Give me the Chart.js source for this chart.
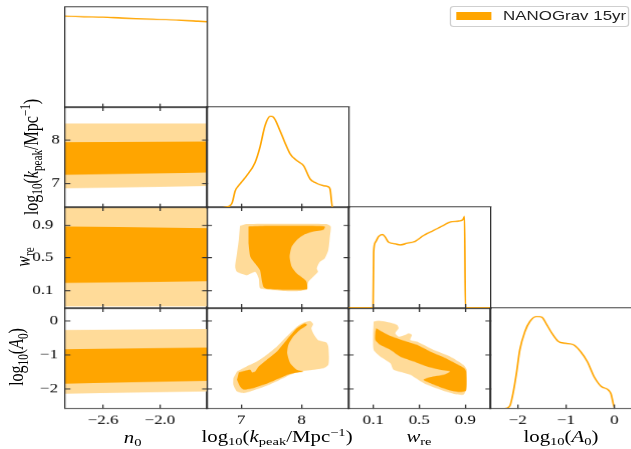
<!DOCTYPE html>
<html>
<head>
<meta charset="utf-8">
<title>NANOGrav 15yr posterior</title>
<script src="https://cdn.jsdelivr.net/npm/chart.js@4.4.1/dist/chart.umd.min.js"></script>
<style>
  html, body { margin: 0; padding: 0; background: #fff; }
  #page { position: relative; width: 631px; height: 449px; overflow: hidden; }
  /* the figure is laid out narrow and stretched sideways */
  #fig { position: absolute; left: 0; top: 0; width: 486px; height: 449px; transform: scaleX(1.3); transform-origin: 0 0; }
  #fig canvas { position: absolute; }
  .title { position: absolute; font: 16px 'Liberation Serif', serif; color: #000; white-space: nowrap; transform: translate(-50%, -50%); }
  .title.y { transform: translate(-50%, -50%) rotate(-90deg); }
  .title sub, .title sup { font-size: 70%; line-height: 0; }
  .title sub { vertical-align: -0.3em; }
  .title sup { vertical-align: 0.5em; }
  #legend { position: absolute; left: 346px; top: 6px; width: 138px; height: 21px; box-sizing: border-box; border: 1px solid #cfcfcf; border-radius: 3px; background: #fff; font: 13px 'Liberation Sans', sans-serif; color: #222; }
  #legend .patch { position: absolute; left: 4px; top: 4.5px; width: 27px; height: 8.5px; background: #FFA500; }
  #legend .text { position: absolute; left: 40px; top: 2px; line-height: 13px; }
</style>
</head>
<body>
<div id="page">
  <div id="fig">
    <div id="legend"><span class="patch"></span><span class="text">NANOGrav 15yr</span></div>
  </div>
</div>
<script>
// parameter ranges shown on each axis
const n0Range = [-3.0, -1.5];
const kpeakRange = [6.43, 8.78];
const wreRange = [-0.115, 1.12];
const a0Range = [-2.57, 0.37];
const densRange = [0, 1.1];

const n0Ticks = [-2.6, -2.0];
const n0TickLabels = ['\u22122.6', '\u22122.0'];
const kpeakTicks = [7, 8];
const kpeakTickLabels = ['7', '8'];
const wreTicks = [0.1, 0.5, 0.9];
const wreTickLabels = ['0.1', '0.5', '0.9'];
const a0Ticks = [-2, -1, 0];
const a0TickLabels = ['\u22122', '\u22121', '0'];

// 1D marginals
const n0Grid = [-3.0, -2.8, -2.6, -2.4, -2.2, -2.0, -1.8, -1.6, -1.5];
const n0Dens = [1.0, 0.993, 0.989, 0.979, 0.971, 0.964, 0.957, 0.946, 0.94];

const kpeakGrid = [6.43, 6.6, 6.76, 6.85, 6.90, 6.955, 7.09, 7.23, 7.31, 7.395, 7.48, 7.53, 7.64, 7.72, 7.81, 7.92, 8.03, 8.14, 8.22, 8.36, 8.44, 8.47, 8.51, 8.78];
const kpeakDens = [0, 0, 0.008, 0.055, 0.184, 0.239, 0.349, 0.495, 0.66, 0.899, 0.998, 0.99, 0.844, 0.715, 0.587, 0.514, 0.459, 0.312, 0.275, 0.239, 0.228, 0.2, 0, 0];

const wreGrid = [-0.115, 0.099, 0.104, 0.119, 0.147, 0.182, 0.205, 0.234, 0.292, 0.335, 0.393, 0.465, 0.537, 0.624, 0.71, 0.769, 0.84, 0.879, 0.893, 0.901, 1.12];
const wreDens = [0, 0, 0.606, 0.716, 0.779, 0.80, 0.771, 0.716, 0.699, 0.688, 0.705, 0.727, 0.79, 0.845, 0.9, 0.937, 0.947, 0.962, 0.998, 0, 0];

const a0Grid = [-2.57, -2.27, -2.165, -2.096, -2.025, -1.956, -1.85, -1.747, -1.607, -1.502, -1.397, -1.293, -1.155, -1.015, -0.84, -0.70, -0.56, -0.42, -0.28, -0.14, -0.073, 0.01, 0.37];
const a0Dens = [0, 0, 0.025, 0.165, 0.385, 0.641, 0.843, 0.953, 1.008, 1.0, 0.916, 0.825, 0.733, 0.715, 0.696, 0.623, 0.513, 0.348, 0.245, 0.209, 0.165, 0, 0];

// n0 is unconstrained: the 68% / 95% regions are bands across the prior
const n0Edges = [-3.0, -1.5];
const kpeak68Lo = [7.196, 7.25], kpeak68Hi = [7.96, 7.976];
const kpeak95Lo = [6.882, 6.936], kpeak95Hi = [8.395, 8.395];
const wre68Lo = [0.192, 0.213], wre68Hi = [0.881, 0.862];
const wre95Lo = [-0.094, -0.094], wre95Hi = [1.13, 1.13];
const a068Lo = [-1.845, -1.758], a068Hi = [-0.834, -0.787];
const a095Lo = [-2.137, -2.07], a095Hi = [-0.271, -0.242];

// 2D credible contours
const kpWre95K = [6.98, 7.09, 7.42, 7.97, 8.41, 8.48, 8.466, 8.44, 8.38, 8.30, 8.25, 8.27, 8.19, 8.11, 8.08, 7.97, 7.70, 7.42, 7.31, 7.29, 7.23, 7.09, 6.93, 6.90, 6.93, 6.96];
const kpWre95W = [0.89, 0.911, 0.915, 0.915, 0.911, 0.882, 0.759, 0.595, 0.492, 0.451, 0.369, 0.328, 0.267, 0.205, 0.123, 0.094, 0.094, 0.115, 0.13, 0.246, 0.328, 0.287, 0.328, 0.39, 0.554, 0.718];
const kpWre68K = [7.12, 7.42, 7.97, 8.38, 8.36, 8.19, 8.03, 7.92, 7.835, 7.80, 7.835, 7.92, 8.03, 8.08, 8.09, 7.97, 7.70, 7.42, 7.37, 7.34, 7.31, 7.23, 7.15, 7.12];
const kpWre68W = [0.882, 0.89, 0.89, 0.882, 0.841, 0.82, 0.779, 0.718, 0.636, 0.513, 0.39, 0.308, 0.246, 0.205, 0.115, 0.108, 0.108, 0.12, 0.14, 0.226, 0.349, 0.431, 0.513, 0.677];

const kpA095K = [6.93, 7.09, 7.26, 7.42, 7.59, 7.75, 7.92, 8.03, 8.14, 8.19, 8.16, 8.19, 8.27, 8.41, 8.44, 8.45, 8.44, 8.36, 8.19, 7.97, 7.81, 7.64, 7.42, 7.20, 7.04, 6.93, 6.87, 6.87];
const kpA095A = [-1.486, -1.34, -1.194, -1.0, -0.757, -0.466, -0.174, -0.057, -0.009, -0.096, -0.222, -0.368, -0.563, -0.64, -0.757, -1.049, -1.292, -1.389, -1.437, -1.486, -1.583, -1.729, -1.904, -2.04, -2.118, -2.069, -1.875, -1.68];
const kpA068K = [6.96, 7.07, 7.15, 7.18, 7.23, 7.29, 7.42, 7.59, 7.75, 7.92, 8.05, 8.09, 7.97, 7.86, 7.78, 7.76, 7.81, 7.92, 8.03, 7.81, 7.64, 7.42, 7.20, 7.04, 6.98, 6.93];
const kpA068A = [-1.515, -1.457, -1.437, -1.515, -1.486, -1.34, -1.146, -0.903, -0.563, -0.222, -0.077, -0.125, -0.271, -0.466, -0.708, -0.951, -1.243, -1.437, -1.486, -1.554, -1.68, -1.845, -1.972, -2.02, -1.923, -1.729];

const wrA095W = [0.104, 0.148, 0.249, 0.307, 0.321, 0.292, 0.321, 0.379, 0.408, 0.436, 0.422, 0.48, 0.624, 0.769, 0.884, 0.913, 0.907, 0.884, 0.797, 0.682, 0.538, 0.422, 0.278, 0.249, 0.162, 0.104, 0.099];
const wrA095A = [-0.028, 0.001, -0.057, -0.125, -0.222, -0.368, -0.466, -0.417, -0.368, -0.417, -0.563, -0.611, -0.854, -1.049, -1.292, -1.437, -2.02, -2.166, -2.137, -2.02, -1.826, -1.583, -1.437, -1.243, -1.049, -0.854, -0.368];
const wrA068W = [0.127, 0.162, 0.249, 0.364, 0.48, 0.595, 0.711, 0.812, 0.89, 0.907, 0.907, 0.855, 0.769, 0.682, 0.595, 0.538, 0.595, 0.711, 0.769, 0.682, 0.566, 0.451, 0.335, 0.249, 0.162, 0.119, 0.119];
const wrA068A = [-0.222, -0.291, -0.446, -0.582, -0.708, -0.903, -1.068, -1.243, -1.389, -1.486, -2.04, -2.088, -2.04, -1.943, -1.826, -1.729, -1.651, -1.583, -1.486, -1.437, -1.34, -1.194, -1.049, -0.854, -0.708, -0.563, -0.32];

const DARK = '#FFA500';
const LIGHT = '#FFDB99';
const FRAME = '#333';
const TICK_FONT = { family: "'Liberation Serif', serif", size: 13 };

// panel grid (unstretched px)
const colEdges = [50, 159, 268, 377, 486];
const rowEdges = [7, 107, 207, 308, 408];
const LABEL_W = 50, LABEL_H = 40;

const fig = document.getElementById('fig');

function pts(xs, ys) {
  return xs.map((x, i) => ({ x: x, y: ys[i] }));
}

function curve(xs, ys) {
  return { data: pts(xs, ys), showLine: true, borderColor: DARK, borderWidth: 1.3, pointRadius: 0, fill: false, cubicInterpolationMode: 'monotone' };
}

function edge(xs, ys, fillTo, color) {
  return { data: pts(xs, ys), showLine: true, borderWidth: 0, pointRadius: 0, fill: fillTo, backgroundColor: color };
}

function region(xs, ys, color) {
  return { data: pts(xs, ys), showLine: true, borderWidth: 0, pointRadius: 0, fill: 'shape', backgroundColor: color, tension: 0.2 };
}

// two nested bands across the whole n0 range, dark one on top
function bands(lo68, hi68, lo95, hi95) {
  return [
    edge(n0Edges, hi68, false, DARK),
    edge(n0Edges, lo68, '-1', DARK),
    edge(n0Edges, hi95, false, LIGHT),
    edge(n0Edges, lo95, '-1', LIGHT)
  ];
}

// size: room kept for the tick labels (0 when the axis only draws its line and ticks)
function axis(id, position, range, ticks, labels, withTicks, size, pad) {
  return {
    type: 'linear', axis: id, position: position, min: range[0], max: range[1],
    afterBuildTicks: s => { s.ticks = ticks.map(v => ({ value: v })); },
    afterFit: s => {
      if (s.isHorizontal()) s.height = size; else s.width = size;
      s.paddingLeft = s.paddingRight = s.paddingTop = s.paddingBottom = 0;
    },
    grid: { drawOnChartArea: false, drawTicks: withTicks, tickLength: -4, color: FRAME, lineWidth: 1, z: 1 },
    border: { display: true, color: FRAME, width: 1, z: 1 },
    ticks: {
      display: !!labels, autoSkip: false, minRotation: 0, maxRotation: 0,
      callback: (v, i) => labels ? labels[i] : '',
      font: TICK_FONT, color: '#000', padding: pad || 8
    }
  };
}

function panel(col, row, p) {
  const diag = !!p.diag;
  const xLabels = row === 3 ? p.xLabels : null;
  const yLabels = col === 0 && !diag ? p.yLabels : null;
  const yTicks = diag ? [] : p.yTicks;

  const padL = yLabels ? LABEL_W : 3;
  const padB = xLabels ? LABEL_H : 3;
  const padR = 3, padT = 3;
  const w = colEdges[col + 1] - colEdges[col];
  const h = rowEdges[row + 1] - rowEdges[row];
  const canvas = document.createElement('canvas');
  canvas.width = w + padL + padR;
  canvas.height = h + padT + padB;
  canvas.style.left = (colEdges[col] - padL) + 'px';
  canvas.style.top = (rowEdges[row] - padT) + 'px';
  fig.insertBefore(canvas, fig.firstChild);

  return new Chart(canvas, {
    type: 'scatter',
    data: { datasets: p.datasets },
    options: {
      responsive: false,
      animation: false,
      devicePixelRatio: 1.3,
      layout: { autoPadding: false, padding: { left: yLabels ? 0 : padL, right: padR, top: padT, bottom: xLabels ? 0 : padB } },
      plugins: { legend: { display: false }, tooltip: { enabled: false } },
      scales: {
        x: axis('x', 'bottom', p.xRange, p.xTicks, xLabels, true, xLabels ? LABEL_H : 0, 8),
        xTop: axis('x', 'top', p.xRange, p.xTicks, null, !diag, 0),
        y: axis('y', 'left', p.yRange, yTicks, yLabels, !diag, yLabels ? LABEL_W : 0, p.yPad),
        yRight: axis('y', 'right', p.yRange, yTicks, null, !diag, 0)
      }
    }
  });
}

// diagonal: 1D marginals
panel(0, 0, { diag: true, xRange: n0Range, yRange: densRange, xTicks: n0Ticks, xLabels: n0TickLabels,
  datasets: [curve(n0Grid, n0Dens)] });
panel(1, 1, { diag: true, xRange: kpeakRange, yRange: densRange, xTicks: kpeakTicks, xLabels: kpeakTickLabels,
  datasets: [curve(kpeakGrid, kpeakDens)] });
panel(2, 2, { diag: true, xRange: wreRange, yRange: densRange, xTicks: wreTicks, xLabels: wreTickLabels,
  datasets: [curve(wreGrid, wreDens)] });
panel(3, 3, { diag: true, xRange: a0Range, yRange: densRange, xTicks: a0Ticks, xLabels: a0TickLabels,
  datasets: [curve(a0Grid, a0Dens)] });

// first column: n0 against the rest
panel(0, 1, { xRange: n0Range, yRange: kpeakRange, xTicks: n0Ticks, yTicks: kpeakTicks, yLabels: kpeakTickLabels, yPad: 8,
  datasets: bands(kpeak68Lo, kpeak68Hi, kpeak95Lo, kpeak95Hi) });
panel(0, 2, { xRange: n0Range, yRange: wreRange, xTicks: n0Ticks, yTicks: wreTicks, yLabels: wreTickLabels, yPad: 13,
  datasets: bands(wre68Lo, wre68Hi, wre95Lo, wre95Hi) });
panel(0, 3, { xRange: n0Range, yRange: a0Range, xTicks: n0Ticks, yTicks: a0Ticks, xLabels: n0TickLabels, yLabels: a0TickLabels, yPad: 9.5,
  datasets: bands(a068Lo, a068Hi, a095Lo, a095Hi) });

// remaining 2D contours
panel(1, 2, { xRange: kpeakRange, yRange: wreRange, xTicks: kpeakTicks, yTicks: wreTicks,
  datasets: [region(kpWre68K, kpWre68W, DARK), region(kpWre95K, kpWre95W, LIGHT)] });
panel(1, 3, { xRange: kpeakRange, yRange: a0Range, xTicks: kpeakTicks, yTicks: a0Ticks, xLabels: kpeakTickLabels,
  datasets: [region(kpA068K, kpA068A, DARK), region(kpA095K, kpA095A, LIGHT)] });
panel(2, 3, { xRange: wreRange, yRange: a0Range, xTicks: wreTicks, yTicks: a0Ticks, xLabels: wreTickLabels,
  datasets: [region(wrA068W, wrA068A, DARK), region(wrA095W, wrA095A, LIGHT)] });

// axis titles
const titles = [
  { html: '<i>n</i><sub>0</sub>', x: 102, y: 438 },
  { html: 'log<sub>10</sub>(<i>k</i><sub>peak</sub>/Mpc<sup>\u22121</sup>)', x: 213.1, y: 437 },
  { html: '<i>w</i><sub>re</sub>', x: 322.3, y: 437 },
  { html: 'log<sub>10</sub>(<i>A</i><sub>0</sub>)', x: 431.5, y: 437 },
  { html: 'log<sub>10</sub>(<i>k</i><sub>peak</sub>/Mpc<sup>\u22121</sup>)', x: 24.3, y: 157, vertical: true },
  { html: '<i>w</i><sub>re</sub>', x: 17.5, y: 257, vertical: true },
  { html: 'log<sub>10</sub>(<i>A</i><sub>0</sub>)', x: 12.5, y: 357, vertical: true }
];
titles.forEach(t => {
  const el = document.createElement('div');
  el.className = t.vertical ? 'title y' : 'title';
  el.innerHTML = t.html;
  el.style.left = t.x + 'px';
  el.style.top = t.y + 'px';
  fig.appendChild(el);
});
</script>
</body>
</html>
